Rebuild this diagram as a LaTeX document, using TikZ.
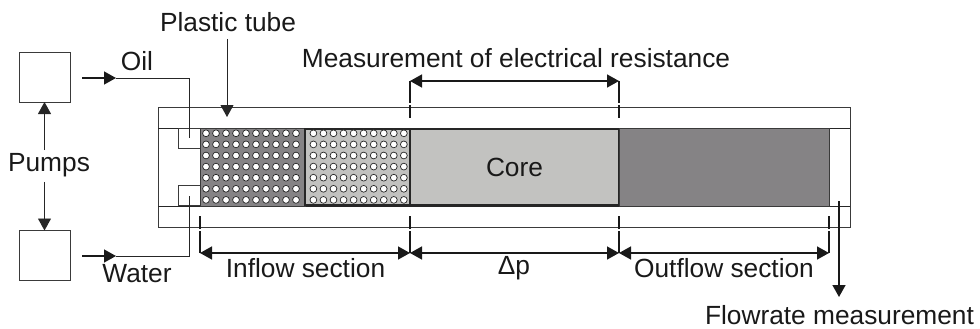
\documentclass[tikz,border=0pt]{standalone}
\usepackage{fontspec}
\setmainfont{Liberation Sans}
\usetikzlibrary{arrows.meta,positioning,calc}
\definecolor{plugDark}{HTML}{858385}
\definecolor{plugLight}{HTML}{C2C2C0}
\definecolor{lineGrey}{HTML}{3A3A3A}
\tikzset{
  partbox/.style={draw=lineGrey, line width=.9pt, minimum width=#1, inner sep=0pt, outer sep=0pt},
  pumpbox/.style={partbox=51pt, minimum height=50pt},
  tubewall/.style={partbox=692pt, minimum height=120pt},
  inlet/.style={partbox=22pt, minimum height=20pt},
  plug/.style={draw=black!85, line width=1.8pt, minimum height=76pt, minimum width=#1, inner sep=0pt, outer sep=0pt},
  labeltext/.style={font=\fontsize{26.3}{28}\selectfont, text=black!90, inner sep=0pt},
  flow/.style={-{Triangle[length=12pt,width=13pt]}, line width=1.5pt, draw=black!90},
  thinflow/.style={-{Triangle[length=12pt,width=13pt]}, line width=.9pt, draw=black!85},
  pipe/.style={line width=.9pt, draw=black!85},
  span/.style={{Triangle[length=12pt,width=13pt]}-{Triangle[length=12pt,width=13pt]}, line width=1.5pt, draw=black!90},
  guide/.style={line width=1.2pt, dash pattern=on 22pt off 2pt on 14pt off 2pt, draw=black!90},
  pore/.style={circle, draw=black!85, fill=white, line width=.7pt, minimum size=6.8pt, inner sep=0pt}
}
\begin{document}
\begin{tikzpicture}[x=1pt,y=-1pt]
  \useasboundingbox (0,0) rectangle (980,329);

  % tube and the two lines of its bore
  \node[tubewall] (tube) at (504,167) {};
  \coordinate (boreLT) at (158,128);
  \coordinate (boreRT) at (850,128);
  \coordinate (boreLB) at (158,206);
  \coordinate (boreRB) at (850,206);
  \draw[pipe] (boreLT) -- (boreRT);
  \draw[pipe] (boreLB) -- (boreRB);

  % plugs and core
  \node[plug=105pt, fill=plugDark, draw=lineGrey, line width=.9pt, minimum height=78pt] (inflowA) at (252.5,167) {};
  \node[plug=105pt, fill=plugLight] (inflowB) at (357.5,167) {};
  \node[plug=209pt, fill=plugLight] (core) at (514.5,167) {};
  \node[plug=210pt, fill=plugDark, draw=lineGrey, line width=.9pt, minimum height=78pt] (outflow) at (724,167) {};
  \node[labeltext] at (core) {Core};

  \foreach \r in {0,...,6}{
    \foreach \c in {0,...,9}{
      \node[pore] (a\r\c) at ({206+10*\c},{133.3+11.1*\r}) {};
      \node[pore] (b\r\c) at ({313.4+10.05*\c},{133.3+11.1*\r}) {};
    }
  }

  \node[inlet] (inOil) at (189,138) {};
  \node[inlet] (inWater) at (189,195.5) {};

  % pumps and their feed lines
  \node[pumpbox] (pumpOil) at (44.5,77) {};
  \node[pumpbox] (pumpWater) at (44.5,255.5) {};
  \node[labeltext] (pumps) at (49,165) {Pumps};
  \node[labeltext] (oil) at (137,61) {Oil};
  \node[labeltext] (water) at (137,274) {Water};

  \coordinate (oilA) at (82,78);
  \coordinate (oilB) at (116,78);
  \coordinate (waterA) at (82,256);
  \coordinate (waterB) at (116,256);
  \draw[flow] (oilA) -- (oilB);
  \draw[flow] (waterA) -- (waterB);
  \draw[pipe] (oilB) -| (inOil.center);
  \draw[pipe] (waterB) -| (inWater.center);
  \draw[thinflow] (pumps.north -| pumpOil) ++(0,-3) -- (pumpOil.south);
  \draw[thinflow] (pumps.south -| pumpWater) ++(0,5) -- (pumpWater.north);

  % labels above the tube
  \node[labeltext] (plastic) at (228,22) {Plastic tube};
  \node[labeltext] (measure) at (516,58) {Measurement of electrical resistance};
  \coordinate (tubeMark) at (227,117);
  \draw[thinflow] (plastic.south -| tubeMark) ++(0,7) -- (tubeMark);

  % dimension guides
  \coordinate (topA) at (410,81);
  \coordinate (topB) at (619,81);
  \coordinate (dimA) at (200,253);
  \coordinate (dimB) at (410,253);
  \coordinate (dimC) at (619,253);
  \coordinate (dimD) at (829,253);
  \draw[guide] (topA) -- ++(0,37);
  \draw[guide] (topB) -- ++(0,37);
  \foreach \p in {dimA,dimB,dimC,dimD}{
    \draw[guide] (\p) -- ++(0,-37);
  }
  \draw[span] (topA) -- (topB);
  \draw[span] (dimA) -- (dimB);
  \draw[span] (dimB) -- (dimC);
  \draw[span] (dimC) -- (dimD);

  \node[labeltext] (inflowLab) at (305.5,268) {Inflow section};
  \node[labeltext] (dpLab) at (514,268) {Δp};
  \node[labeltext] (outflowLab) at (724,268) {Outflow section};

  % flowrate
  \node[labeltext] (rate) at (839.5,315) {Flowrate measurement};
  \coordinate (rateStart) at (839,201);
  \draw[flow] (rateStart) -- ++(0,96);
\end{tikzpicture}
\end{document}
